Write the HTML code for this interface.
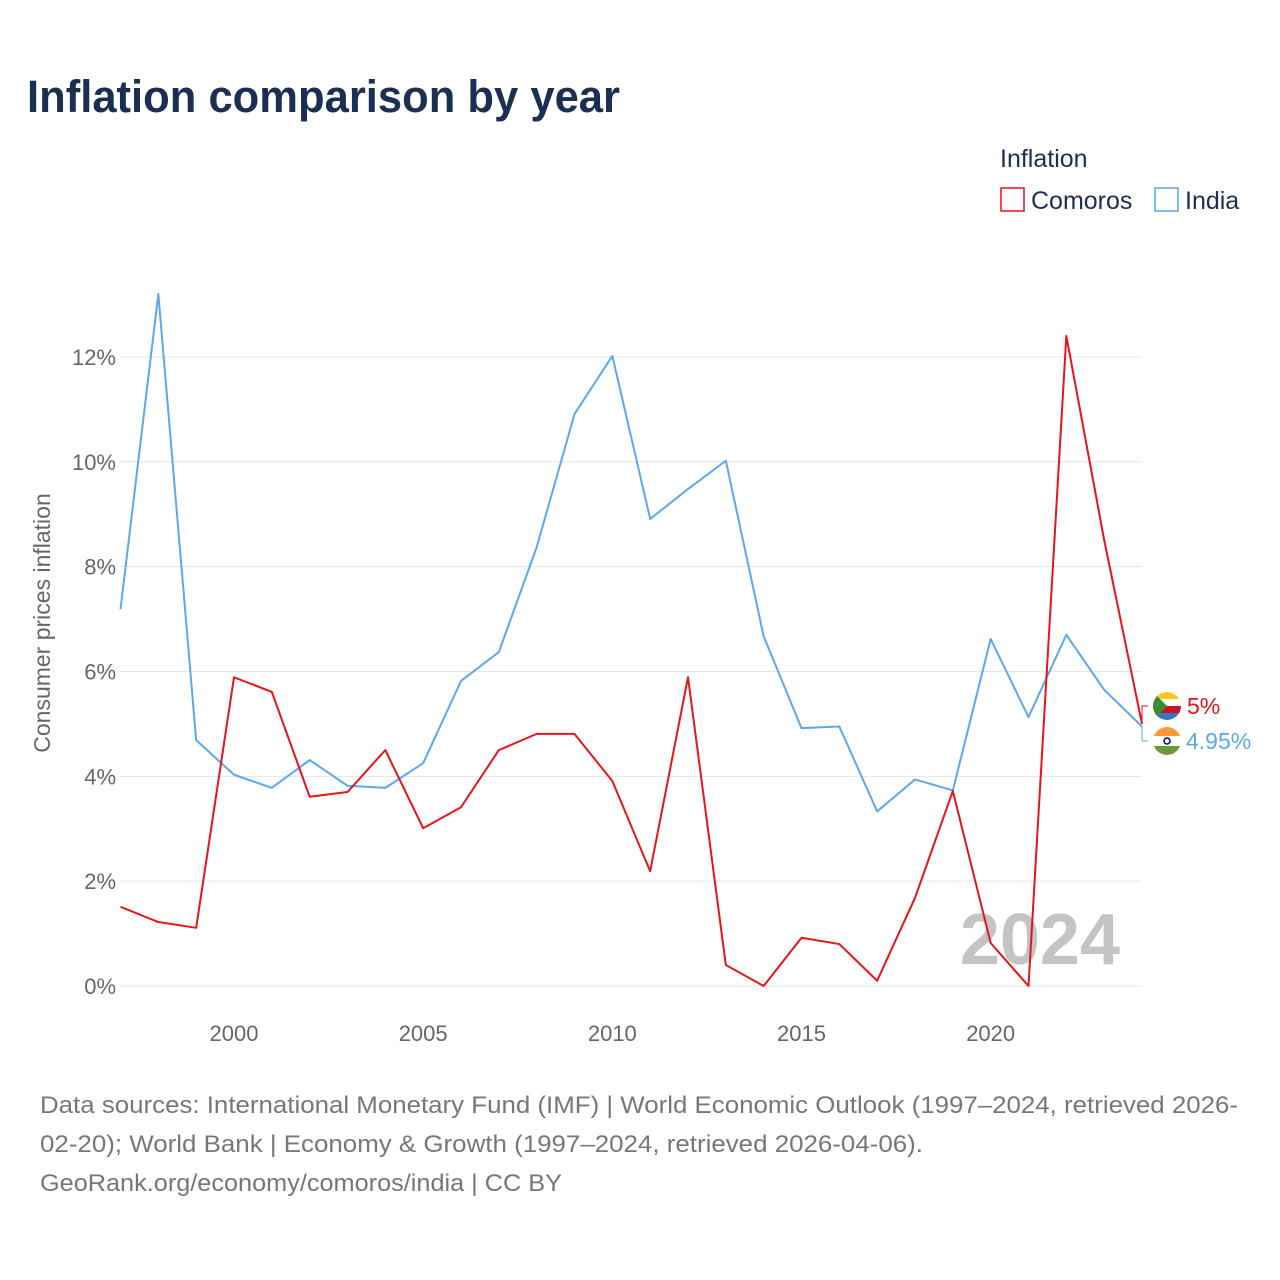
<!DOCTYPE html>
<html><head><meta charset="utf-8"><style>
body{margin:0;background:#fff;font-family:"Liberation Sans",sans-serif}
#wrap{position:relative;width:1280px;height:1280px;overflow:hidden}
</style></head><body>
<div id="wrap">
<svg id="chart" width="1280" height="1280" style="font-family:'Liberation Sans',sans-serif">
<defs>
<clipPath id="c1"><circle cx="1167" cy="706" r="14"/></clipPath>
<clipPath id="c2"><circle cx="1167" cy="741" r="14"/></clipPath>
</defs>
<text x="27" y="112" font-size="45" font-weight="bold" fill="#1b2f52" textLength="593" lengthAdjust="spacingAndGlyphs">Inflation comparison by year</text>
<text x="1000" y="167" font-size="25" fill="#1b2f52">Inflation</text>
<g><rect x="1001" y="188" width="23" height="23" fill="none" stroke="#e8141a" stroke-width="1.5"/><text x="1031" y="209" font-size="25" fill="#1b2f52">Comoros</text></g>
<g><rect x="1155" y="188" width="23" height="23" fill="none" stroke="#5ca8ec" stroke-width="1.5"/><text x="1185" y="209" font-size="25" fill="#1b2f52">India</text></g>
<text transform="translate(50,623) rotate(-90)" text-anchor="middle" font-size="23" fill="#666">Consumer prices inflation</text>
<g id="grid"></g><g id="xt"></g>
<text x="1120" y="964" text-anchor="end" font-size="72" font-weight="bold" fill="#c4c4c4">2024</text>
<g id="lines"></g>
<text x="40" y="1113" font-size="24" fill="#777" textLength="1198" lengthAdjust="spacingAndGlyphs">Data sources: International Monetary Fund (IMF) | World Economic Outlook (1997–2024, retrieved 2026-</text>
<text x="40" y="1152" font-size="24" fill="#777" textLength="883" lengthAdjust="spacingAndGlyphs">02-20); World Bank | Economy &amp; Growth (1997–2024, retrieved 2026-04-06).</text>
<text x="40" y="1191" font-size="24" fill="#777" textLength="522" lengthAdjust="spacingAndGlyphs">GeoRank.org/economy/comoros/india | CC BY</text>
</svg></div>
<script>
const years=[1997,1998,1999,2000,2001,2002,2003,2004,2005,2006,2007,2008,2009,2010,2011,2012,2013,2014,2015,2016,2017,2018,2019,2020,2021,2022,2023,2024];
const comoros=[1.51,1.22,1.11,5.89,5.61,3.61,3.70,4.50,3.01,3.41,4.50,4.81,4.81,3.91,2.19,5.89,0.40,0.0,0.92,0.80,0.10,1.68,3.72,0.82,0.0,12.4,8.51,5.0];
const india=[7.19,13.2,4.69,4.03,3.78,4.31,3.82,3.78,4.25,5.82,6.37,8.37,10.91,12.02,8.91,9.48,10.02,6.67,4.92,4.95,3.33,3.94,3.73,6.62,5.13,6.70,5.65,4.95];
const yTicks=[0,2,4,6,8,10,12];
const xTicks=[2000,2005,2010,2015,2020];
const NS="http://www.w3.org/2000/svg";
const xs=y=>120.5+(y-1997)*(1142-120.5)/27;
const ys=v=>986-v*52.42;
function mk(t,a,p){const e=document.createElementNS(NS,t);for(const k in a)e.setAttribute(k,a[k]);p.appendChild(e);return e;}
const grid=document.getElementById('grid'),xt=document.getElementById('xt'),lines=document.getElementById('lines');
yTicks.forEach(v=>{
const l=mk('line',{x1:120,x2:1142,y1:ys(v),y2:ys(v),stroke:'#e6e6e6','stroke-width':1},grid);


const t=mk('text',{x:116,y:ys(v)+8,'text-anchor':'end','font-size':22,fill:'#666'},grid);
t.textContent=v+'%';


});
xTicks.forEach(y=>{
const t=mk('text',{x:xs(y),y:1041,'text-anchor':'middle','font-size':22,fill:'#666'},xt);
t.textContent=y;


});
function line(vals,c,name){
const p=mk('polyline',{points:vals.map((v,i)=>xs(years[i])+','+ys(v)).join(' '),fill:'none',stroke:c,'stroke-width':2,'stroke-linejoin':'round'},lines);


}
line(india,'#5ca8ec','india-line');
line(comoros,'#e8141a','comoros-line');
const lc=comoros[comoros.length-1],li=india[india.length-1];
const ex=xs(years[years.length-1]);
const cy=706,iy=741;
mk('polyline',{points:`${ex},${ys(lc)} ${ex},${cy} ${ex+6},${cy}`,fill:'none',stroke:'#e8141a','stroke-width':1},lines);
mk('polyline',{points:`${ex},${ys(li)} ${ex},${iy} ${ex+6},${iy}`,fill:'none',stroke:'#5ca8ec','stroke-width':1},lines);
const f1=mk('g',{'clip-path':'url(#c1)'},lines);
mk('rect',{x:1153,y:cy-14,width:28,height:7,fill:'#ffc61e'},f1);
mk('rect',{x:1153,y:cy-7,width:28,height:7,fill:'#fff'},f1);
mk('rect',{x:1153,y:cy,width:28,height:7,fill:'#ce1126'},f1);
mk('rect',{x:1153,y:cy+7,width:28,height:7,fill:'#3a75c4'},f1);
mk('path',{d:`M1153,${cy-14} L1167,${cy} L1153,${cy+14}Z`,fill:'#3d8e33'},f1);
const f2=mk('g',{'clip-path':'url(#c2)'},lines);
mk('rect',{x:1153,y:iy-14,width:28,height:10,fill:'#ff9933'},f2);
mk('rect',{x:1153,y:iy-5,width:28,height:10,fill:'#fff'},f2);
mk('rect',{x:1153,y:iy+5,width:28,height:10,fill:'#6a9a3a'},f2);
mk('circle',{cx:1167,cy:iy,r:3,fill:'none',stroke:'#000080','stroke-width':1.5},f2);
const t1=mk('text',{x:1187,y:cy+8,'font-size':23,fill:'#e8141a'},lines);t1.textContent=lc+'%';

const t2=mk('text',{x:1186,y:iy+8,'font-size':23,fill:'#5ca8ec'},lines);t2.textContent=li+'%';

</script>
</body></html>
